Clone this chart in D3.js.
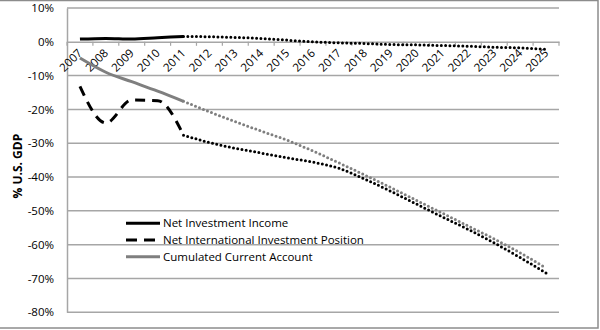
<!DOCTYPE html>
<html><head><meta charset="utf-8">
<script src="https://cdn.jsdelivr.net/npm/d3@7"></script>
<style>body{margin:0;background:#fff}svg{display:block}text{font-family:"Open Sans",sans-serif;fill:#000}</style>
</head><body><svg id="c" width="600" height="330"></svg>
<script>
const years = ["2007","2008","2009","2010","2011","2012","2013","2014","2015","2016","2017","2018","2019","2020","2021","2022","2023","2024","2025"];
const yTicks = [10,0,-10,-20,-30,-40,-50,-60,-70,-80];
// historical (2007-2011)
const niiHist = [0.8,1.0,0.8,1.2,1.6];
const niipHist = [-13.2,-24.0,-17.2,-17.4,-27.6];
const ccaHist = [-4.8,-9.0,-11.8,-14.6,-17.6];
// projections (2011-2025)
const niiProj = [1.6,1.5,1.3,1.0,0.5,0.0,-0.3,-0.5,-0.8,-0.9,-1.1,-1.3,-1.6,-1.8,-2.2];
const niipProj = [-27.6,-29.8,-31.5,-32.9,-34.3,-35.6,-37.4,-40.6,-44.2,-48.0,-51.8,-55.5,-59.5,-63.8,-68.4];
const ccaProj = [-17.6,-20.7,-23.6,-26.4,-29.1,-32.3,-35.8,-39.4,-43.1,-46.9,-50.7,-54.5,-58.3,-62.4,-66.9];
const legendLabels = ["Net Investment Income","Net International Investment Position","Cumulated Current Account"];

const svg = d3.select("#c");
const L=67, R=559, T=8, B=312.3;
const x = d3.scaleBand().domain(years).range([L,R]);
const y = d3.scaleLinear().domain([-80,10]).range([B,T]);
const cx = yr => x(yr)+x.bandwidth()/2;

// outer border
svg.append("rect").attr("x",-2).attr("y",0.5).attr("width",600).attr("height",327.5)
  .attr("fill","none").attr("stroke","#8c8c8c").attr("stroke-width",1.5);

// gridlines
svg.append("g").selectAll("line").data(yTicks.filter(d=>d!==0)).join("line")
  .attr("x1",L).attr("x2",R).attr("y1",d=>y(d)).attr("y2",d=>y(d))
  .attr("stroke","#a6a6a6").attr("stroke-width",1.5);

// y axis
const ya = svg.append("g").attr("transform",`translate(${L},0)`)
  .call(d3.axisLeft(y).tickValues(yTicks).tickFormat(d=>d+"%").tickSize(0).tickPadding(13));
ya.select(".domain").attr("stroke","#a6a6a6").attr("stroke-width",1.5);
ya.selectAll("text").attr("font-size",11.5).style("font-family","Open Sans");

// x axis at 0%
const xa = svg.append("g").attr("transform",`translate(0,${y(0)})`)
  .call(d3.axisBottom(x).tickSize(0).tickPadding(0));
xa.select(".domain").attr("stroke","#a6a6a6").attr("stroke-width",1.5);
xa.selectAll(".tick line").remove();
const tickPos = d3.range(years.length+1).map(i=>L+i*x.step());
xa.selectAll("line.tk").data(tickPos).join("line").attr("class","tk")
  .attr("x1",d=>d).attr("x2",d=>d).attr("y1",0).attr("y2",4)
  .attr("stroke","#a6a6a6").attr("stroke-width",1.2);
xa.selectAll(".tick text").attr("font-size",11.5).style("font-family","Open Sans")
  .attr("text-anchor","end").attr("dy",null).attr("y",null)
  .attr("transform","translate(3,12) rotate(-45)");

// y title
svg.append("text").attr("transform",`translate(22,${(T+B)/2+6}) rotate(-90)`)
  .attr("text-anchor","middle").attr("font-size",12).attr("font-weight","bold").text("% U.S. GDP");

const line = d3.line().x(d=>cx(d[0])).y(d=>y(d[1])).curve(d3.curveMonotoneX);
const hist = v => v.map((d,i)=>[years[i],d]);
const proj = v => v.map((d,i)=>[years[i+4],d]);

function draw(data,color,width,dash,cap){
  svg.append("path").attr("d",line(data)).attr("fill","none").attr("stroke",color)
    .attr("stroke-width",width).attr("stroke-dasharray",dash).attr("stroke-linecap",cap);
}
draw(proj(ccaProj),"#7f7f7f",3,"0,4.3","round");
draw(proj(niipProj),"#000",3,"0,4.3","round");
draw(proj(niiProj),"#000",3,"0,4.3","round");
draw(hist(ccaHist),"#7f7f7f",3,null,"butt");
draw(hist(niipHist),"#000",3,"10,7","butt");
draw(hist(niiHist),"#000",3,null,"butt");

// legend
const lg = svg.append("g");
const styles = [{c:"#000",d:null},{c:"#000",d:"11,7"},{c:"#7f7f7f",d:null}];
legendLabels.forEach((t,i)=>{
  const yy = 223.3 + i*16.7;
  lg.append("line").attr("x1",126).attr("x2",160).attr("y1",yy).attr("y2",yy)
    .attr("stroke",styles[i].c).attr("stroke-width",3).attr("stroke-dasharray",styles[i].d);
  lg.append("text").attr("x",163).attr("y",yy+4).attr("font-size",11.5).text(t);
});
</script></body></html>
